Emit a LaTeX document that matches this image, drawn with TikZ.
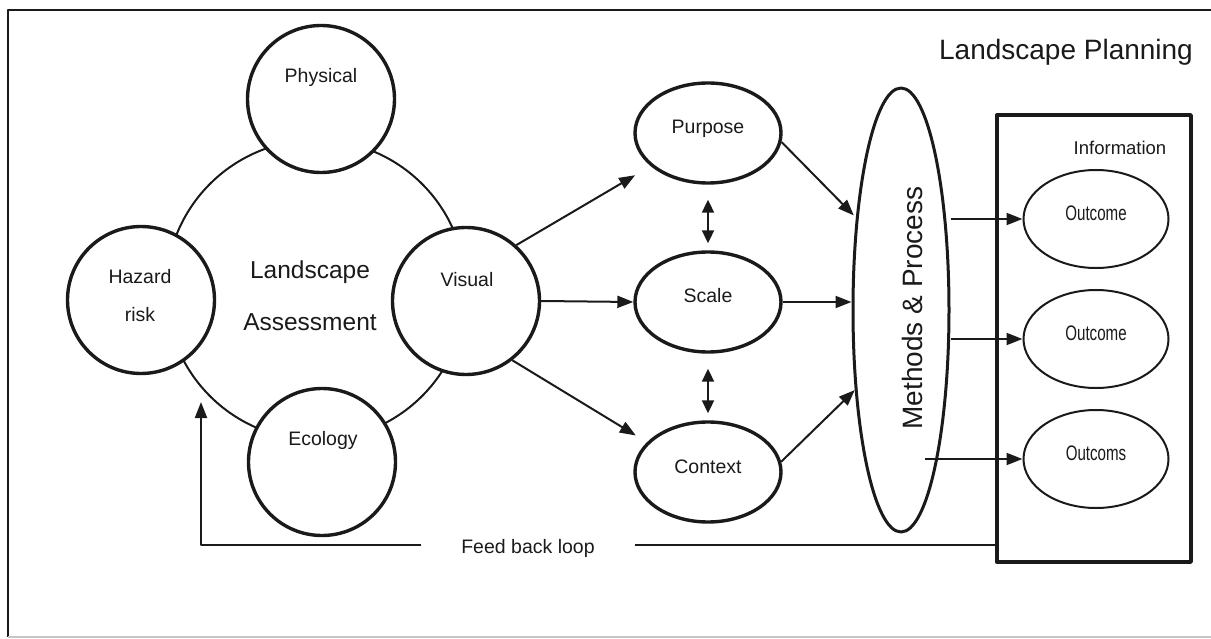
\documentclass[tikz,border=0pt]{standalone}
\usepackage{fontspec}
\setmainfont{Liberation Sans}
\usetikzlibrary{shapes.geometric,arrows.meta,calc}
\definecolor{ink}{HTML}{1A1A1A}
\begin{document}
\begin{tikzpicture}[x=1pt,y=-1pt,line join=round,
  every node/.style={text=ink},
  bigc/.style={draw=ink,line width=3.4pt,circle,minimum size=147pt,inner sep=0pt,fill=white},
  oval/.style={draw=ink,line width=3.4pt,ellipse,minimum width=146pt,minimum height=100pt,inner sep=0pt,fill=white,
     font=\fontsize{19.5}{23}\selectfont,text height=12pt,text depth=10pt},
  outc/.style={draw=ink,line width=2pt,ellipse,minimum width=145pt,minimum height=98pt,inner sep=0pt,fill=white,
     font=\fontsize{21}{24}\selectfont,text height=13pt,text depth=10pt},
  lbl/.style={font=\fontsize{19.5}{23}\selectfont,inner sep=0pt},
  arr/.style={draw=ink,line width=2pt,-{Triangle[length=16pt,width=12pt]}},
  dbl/.style={draw=ink,line width=2pt,{Triangle[length=13pt,width=12pt]}-{Triangle[length=13pt,width=12pt]}},
  thin/.style={draw=ink,line width=2pt}]
\useasboundingbox (0,0) rectangle (1211,639);
% frame
\draw[ink,line width=2pt] (1211,10) -- (8,10) -- (8,637);
\draw[gray!45,line width=1.5pt] (8,637) -- (1211,637);
% assessment ring
\draw[thin] (316,290) circle[radius=150];
\node[bigc] (phys) at (321,99) {};
\node[bigc] (haz) at (141,300) {};
\node[bigc] (vis) at (466,301) {};
\node[bigc] (eco) at (322,462) {};
\node[lbl] (physT) at (321,77) {Physical};
\node[lbl] (visT) at (467,280) {Visual};
\node[lbl] (ecoT) at (323,440) {Ecology};
\node[lbl,align=center,font=\fontsize{19.5}{38}\selectfont] (hazT) at (140,296) {Hazard\\risk};
\node[inner sep=0pt,align=center,font=\fontsize{24.5}{52}\selectfont] (la) at (310,296) {Landscape\\Assessment};
% title
\node[inner sep=0pt,font=\fontsize{28}{32}\selectfont] (lp) at (1066,52) {Landscape Planning};
% middle column
\node[oval] (purp) at (708,133) {Purpose};
\node[oval] (scale) at (708,302) {Scale};
\node[oval] (ctx) at (708,472) {Context};
\draw[dbl,shorten <=15pt,shorten >=7pt] (purp.south) -- (scale.north);
\draw[dbl,shorten <=15pt,shorten >=7pt] (scale.south) -- (ctx.north);
\draw[arr,shorten >=18pt] (vis.48) -- (purp.210);
\draw[arr] (vis.east) -- (scale.west);
\draw[arr,shorten >=13pt] (vis.-52) -- (ctx.154);
% methods
\node[draw=ink,line width=3pt,ellipse,minimum width=96pt,minimum height=444pt,inner sep=0pt] (meth) at (901,310) {};
\node[inner sep=0pt,rotate=90,font=\fontsize{28}{32}\selectfont] (methT) at (912,308) {Methods \& Process};
\draw[arr,shorten >=3pt] (purp.-7) -- (meth.116);
\draw[arr] (scale.east) -- (scale.east -| meth.west);
\draw[arr] (ctx.8) -- (meth.240);
% information box
\node[draw=ink,line width=3.4pt,minimum width=194pt,minimum height=447pt,inner sep=0pt] (info) at (1094,338.5) {};
\node[lbl,font=\fontsize{18.5}{22}\selectfont] (infoT) at (1120,148) {Information};
\node[outc] (o1) at (1096,219) {\scalebox{0.72}[1]{Outcome}};
\node[outc] (o2) at (1096,339) {\scalebox{0.72}[1]{Outcome}};
\node[outc] (o3) at (1096,459) {\scalebox{0.72}[1]{Outcoms}};
\draw[arr] (meth.east |- o1.west) -- (o1.west);
\draw[arr] (meth.east |- o2.west) -- (o2.west);
\coordinate (m3) at (925,459);
\draw[arr] (m3) -- (o3.west);
% feedback loop
\node[lbl,inner xsep=40pt] (fb) at (528,548) {Feed back loop};
\coordinate (fbL) at (201,545);
\coordinate (fbTip) at (201,402);
\draw[thin] (info.west |- fbL) -- (fb.east |- fbL);
\draw[arr] (fb.west |- fbL) -- (fbL) -- (fbTip);
\end{tikzpicture}
\end{document}
